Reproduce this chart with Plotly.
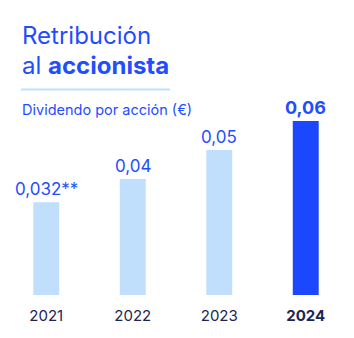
import plotly.graph_objects as go

years = ["2021", "2022", "2023", "2024"]
dividends = [0.032, 0.04, 0.05, 0.06]
value_labels = ["0,032**", "0,04", "0,05", "<b>0,06</b>"]
tick_labels = ["2021", "2022", "2023", "<b>2024</b>"]
bar_colors = ["#c0dffc", "#c0dffc", "#c0dffc", "#1b48ff"]

BLUE = "#1f4dff"
NAVY = "#1e2450"
FONT = "Inter"

W, H = 354, 338
ML, MR, MT, MB = 3, 5, 121, 43

fig = go.Figure()
fig.add_trace(go.Bar(
    x=years, y=dividends, marker=dict(color=bar_colors, line=dict(width=0)),
    width=0.30, hoverinfo="skip",
))

fig.update_layout(
    width=W, height=H,
    margin=dict(l=ML, r=MR, t=MT, b=MB),
    paper_bgcolor="white", plot_bgcolor="white",
    showlegend=False,
    xaxis=dict(type="category", tickmode="array", tickvals=years, ticktext=tick_labels,
               tickfont=dict(family=FONT, size=15, color=NAVY),
               ticklabelstandoff=10,
               showgrid=False, zeroline=False, showline=False, ticks="",
               range=[-0.5, 3.5]),
    yaxis=dict(range=[0, 0.06], visible=False, showgrid=False, zeroline=False),
    font=dict(family=FONT),
)

for i, (v, lab) in enumerate(zip(dividends, value_labels)):
    fig.add_annotation(text=lab, x=i, y=v, xref="x", yref="y",
                       xanchor="center", yanchor="middle",
                       yshift=14 if i == 3 else 13,
                       showarrow=False,
                       font=dict(family=FONT, size=18 if i == 3 else 17, color=BLUE))

def px_x(px):
    return (px - ML) / (W - ML - MR)

def px_y(py):
    return (H - MB - py) / (H - MT - MB)

fig.add_annotation(text="Retribución", xref="paper", yref="paper",
                   x=px_x(20), y=px_y(35), xanchor="left", yanchor="middle",
                   showarrow=False, font=dict(family=FONT, size=24, color=BLUE))
fig.add_annotation(text="al <b>accionista</b>", xref="paper", yref="paper",
                   x=px_x(20), y=px_y(65), xanchor="left", yanchor="middle",
                   showarrow=False, font=dict(family=FONT, size=24, color=BLUE))
fig.add_annotation(text="Dividendo por acción (€)", xref="paper", yref="paper",
                   x=px_x(20), y=px_y(109), xanchor="left", yanchor="middle",
                   showarrow=False, font=dict(family=FONT, size=14.5, color=BLUE))
fig.add_shape(type="line", xref="paper", yref="paper",
              x0=px_x(21), x1=px_x(170),
              y0=px_y(89.5), y1=px_y(89.5),
              line=dict(color="#c0dffc", width=2))

fig.write_html("out.html")
